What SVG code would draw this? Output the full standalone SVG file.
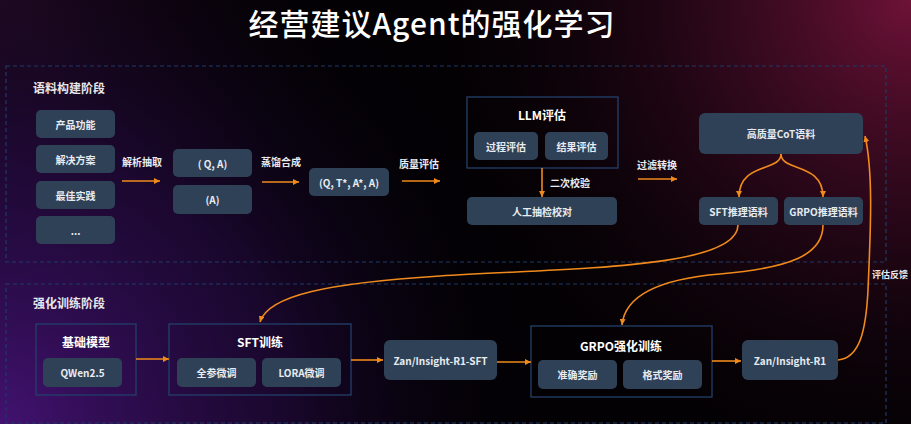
<svg xmlns="http://www.w3.org/2000/svg" width="911" height="424" viewBox="0 0 911 424">
<defs>
<radialGradient id="gTR" cx="911" cy="0" r="520" gradientUnits="userSpaceOnUse">
<stop offset="0" stop-color="#6e1238" stop-opacity="1"/>
<stop offset="0.45" stop-color="#3a0a22" stop-opacity="0.6"/>
<stop offset="1" stop-color="#000000" stop-opacity="0"/>
</radialGradient>
<radialGradient id="gBL" cx="0" cy="424" r="560" gradientUnits="userSpaceOnUse">
<stop offset="0" stop-color="#421270" stop-opacity="1"/>
<stop offset="0.5" stop-color="#240a40" stop-opacity="0.7"/>
<stop offset="1" stop-color="#000000" stop-opacity="0"/>
</radialGradient>
<radialGradient id="gTL" cx="0" cy="0" r="380" gradientUnits="userSpaceOnUse">
<stop offset="0" stop-color="#2a0c28" stop-opacity="0.9"/>
<stop offset="1" stop-color="#000000" stop-opacity="0"/>
</radialGradient>
<marker id="ah" viewBox="0 0 6 6" refX="6" refY="3" markerWidth="6" markerHeight="6" markerUnits="userSpaceOnUse" orient="auto">
<path d="M0,0 L6,3 L0,6 z" fill="#f08a1c"/>
</marker>
<style>
text{font-family:"Noto Sans CJK SC","Noto Sans",sans-serif;fill:#e8ebf0;}
.title{font-size:30px;fill:#ffffff;font-weight:500;letter-spacing:1px;}
.stage{font-size:12px;font-weight:700;fill:#e6e6ea;}
.n rect{fill:#2e4157;}
.n text{font-size:10px;font-weight:600;text-anchor:middle;dominant-baseline:central;}
.o>rect.frame{fill:none;stroke:#22406a;stroke-width:1.3;}
.o>text.h{font-size:12px;font-weight:700;text-anchor:middle;dominant-baseline:central;fill:#ffffff;}
.lbl{font-size:10px;font-weight:600;text-anchor:middle;dominant-baseline:central;}
.dash{fill:none;stroke:#1f3a66;stroke-width:1.2;stroke-dasharray:4 3;}
.c{fill:none;stroke:#f08a1c;stroke-width:1.6;marker-end:url(#ah);}
</style>
</defs>
<rect width="911" height="424" fill="#030104"/>
<rect width="911" height="424" fill="url(#gTL)"/>
<rect width="911" height="424" fill="url(#gBL)"/>
<rect width="911" height="424" fill="url(#gTR)"/>

<text class="title" x="432" y="35" text-anchor="middle">经营建议Agent的强化学习</text>

<g id="stage1">
<rect class="dash" x="6" y="66" width="880" height="196"/>
<text class="stage" x="33" y="87" dominant-baseline="central">语料构建阶段</text>
</g>
<g id="stage2">
<rect class="dash" x="6" y="284" width="880" height="139"/>
<text class="stage" x="33" y="302" dominant-baseline="central">强化训练阶段</text>
</g>

<g id="n-product" class="n"><rect x="36" y="110" width="79" height="28" rx="5"/><text x="75.5" y="124">产品功能</text></g>
<g id="n-solution" class="n"><rect x="36" y="145" width="79" height="28" rx="5"/><text x="75.5" y="159">解决方案</text></g>
<g id="n-practice" class="n"><rect x="36" y="181" width="79" height="28" rx="5"/><text x="75.5" y="195">最佳实践</text></g>
<g id="n-more" class="n"><rect x="36" y="216" width="79" height="28" rx="5"/><text x="75.5" y="230">...</text></g>

<g id="n-qa" class="n"><rect x="173" y="149" width="79" height="28" rx="5"/><text x="212.5" y="163">( Q, A)</text></g>
<g id="n-a" class="n"><rect x="173" y="185" width="79" height="29" rx="5"/><text x="212.5" y="199.5">(A)</text></g>
<g id="n-qtaa" class="n"><rect x="309" y="168" width="80" height="28" rx="5"/><text x="349" y="182">(Q, T*, A*, A)</text></g>

<g id="n-llm" class="o">
<rect class="frame" x="467" y="97" width="151" height="71"/>
<text class="h" x="542" y="114">LLM评估</text>
<g id="n-process" class="n"><rect x="474" y="132" width="64" height="28" rx="5"/><text x="506" y="146">过程评估</text></g>
<g id="n-result" class="n"><rect x="545" y="132" width="63" height="28" rx="5"/><text x="576.5" y="146">结果评估</text></g>
</g>
<g id="n-manual" class="n"><rect x="467" y="197" width="150" height="28" rx="5"/><text x="542" y="211">人工抽检校对</text></g>

<g id="n-cot" class="n"><rect x="699" y="113" width="164" height="41" rx="6"/><text x="781" y="133.5">高质量CoT语料</text></g>
<g id="n-sftdata" class="n"><rect x="699" y="197" width="79" height="28" rx="5"/><text x="738.5" y="211">SFT推理语料</text></g>
<g id="n-grpodata" class="n"><rect x="784" y="197" width="79" height="28" rx="5"/><text x="823.5" y="211">GRPO推理语料</text></g>

<g id="n-base" class="o">
<rect class="frame" x="36" y="324" width="100" height="71"/>
<text class="h" x="86" y="341">基础模型</text>
<g id="n-qwen" class="n"><rect x="43" y="358" width="79" height="29" rx="5"/><text x="82.5" y="372.5">QWen2.5</text></g>
</g>
<g id="n-sft" class="o">
<rect class="frame" x="169" y="324" width="182" height="71"/>
<text class="h" x="260" y="341">SFT训练</text>
<g id="n-full" class="n"><rect x="177" y="358" width="79" height="29" rx="5"/><text x="216.5" y="372.5">全参微调</text></g>
<g id="n-lora" class="n"><rect x="262" y="358" width="79" height="29" rx="5"/><text x="301.5" y="372.5">LORA微调</text></g>
</g>
<g id="n-r1sft" class="n"><rect x="384" y="340" width="113" height="40" rx="6"/><text x="440.5" y="360">Zan/Insight-R1-SFT</text></g>
<g id="n-grpo" class="o">
<rect class="frame" x="531" y="326" width="181" height="71"/>
<text class="h" x="621" y="345">GRPO强化训练</text>
<g id="n-acc" class="n"><rect x="538" y="360" width="79" height="29" rx="5"/><text x="577.5" y="374.5">准确奖励</text></g>
<g id="n-fmt" class="n"><rect x="623" y="360" width="79" height="29" rx="5"/><text x="662.5" y="374.5">格式奖励</text></g>
</g>
<g id="n-r1" class="n"><rect x="742" y="340" width="96" height="40" rx="6"/><text x="790" y="360">Zan/Insight-R1</text></g>

<g id="connectors">
<line class="c" x1="122" y1="181" x2="160" y2="181"/>
<text class="lbl" x="142" y="161">解析抽取</text>
<line class="c" x1="262" y1="182" x2="299" y2="182"/>
<text class="lbl" x="281" y="161">蒸馏合成</text>
<line class="c" x1="402" y1="181" x2="440" y2="181"/>
<text class="lbl" x="419" y="163">质量评估</text>
<line class="c" x1="542" y1="168" x2="542" y2="197"/>
<text class="lbl" x="550" y="182" style="text-anchor:start">二次校验</text>
<line class="c" x1="638" y1="179" x2="677" y2="179"/>
<text class="lbl" x="657" y="164">过滤转换</text>
<path class="c" d="M781,154 C781,172 739,162 739,197"/>
<path class="c" d="M781,154 C781,172 823,162 823,197"/>
<path class="c" d="M738,225 C738,270 560,268 440,276 C330,283 268,295 260,322"/>
<path class="c" d="M823,225 C823,255 790,268 720,274 C660,279 625,295 622,325"/>
<path class="c" d="M838,360 C860,358 866,330 868,290 C870,240 874,175 865,136"/>
<text class="lbl" x="890" y="274" style="font-size:9px">评估反馈</text>
<line class="c" x1="136" y1="359" x2="169" y2="359"/>
<line class="c" x1="351" y1="360" x2="383" y2="360"/>
<line class="c" x1="497" y1="362" x2="531" y2="362"/>
<line class="c" x1="712" y1="361" x2="741" y2="361"/>
</g>
</svg>
